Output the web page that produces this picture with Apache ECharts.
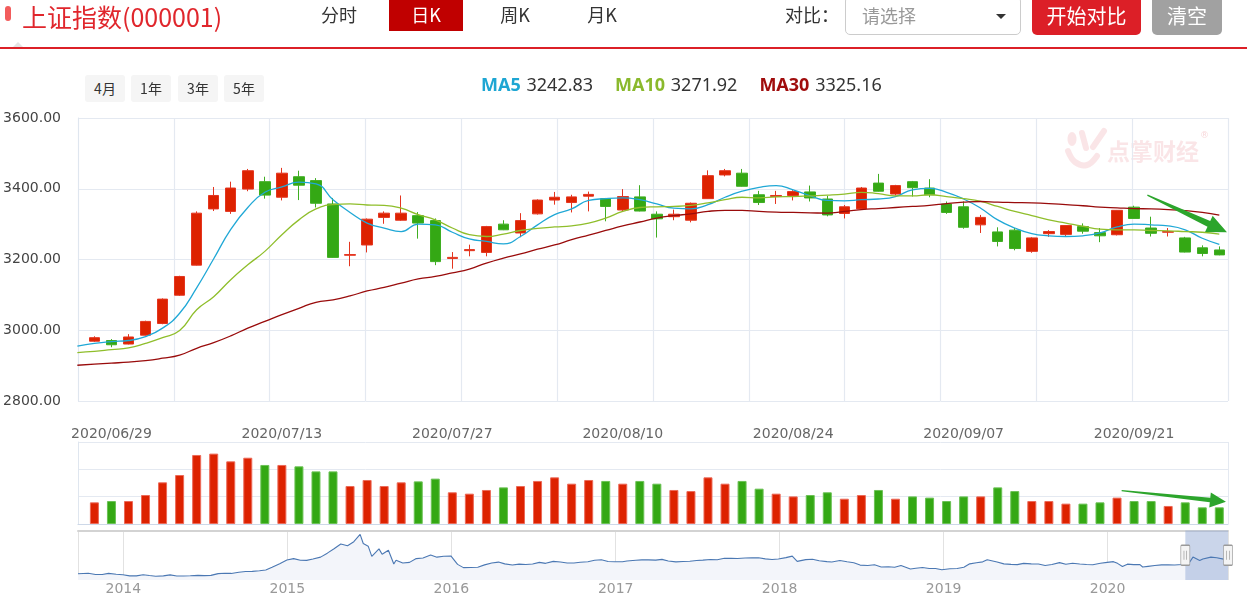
<!DOCTYPE html>
<html>
<head>
<meta charset="utf-8">
<script src="https://cdn.jsdelivr.net/npm/echarts@6/dist/echarts.min.js"></script>
<style>
html,body{margin:0;padding:0;background:#fff;}
#wrap{position:relative;width:1247px;height:600px;overflow:hidden;font-family:"Noto Sans CJK SC","Noto Sans",sans-serif;}
#chart{position:absolute;left:0;top:0;width:1247px;height:600px;}
.hd{position:absolute;white-space:nowrap;box-sizing:border-box;}
.tab{top:-3px;height:34px;line-height:34px;font-size:18px;color:#333;text-align:center;}
.pb{top:75px;height:27px;width:40px;line-height:27px;font-size:14px;color:#333;background:#f5f5f5;border-radius:3px;text-align:center;}
</style>
</head>
<body>
<div id="wrap">
  <div id="chart"></div>
  <div class="hd" style="left:5px;top:6px;width:6px;height:15px;border-radius:3px;background:#f25c5c;"></div>
  <div class="hd" style="left:22px;top:0;line-height:32px;font-size:25px;color:#e0262c;">上证指数(000001)</div>
  <div class="hd tab" style="left:309px;width:60px;">分时</div>
  <div class="hd tab" style="left:389px;width:74px;background:#c00000;color:#fff;">日K</div>
  <div class="hd tab" style="left:485px;width:60px;">周K</div>
  <div class="hd tab" style="left:572px;width:60px;">月K</div>
  <div class="hd tab" style="left:785px;text-align:left;">对比：</div>
  <div class="hd" style="left:845px;top:-4px;width:176px;height:39px;border:1px solid #ccc;border-radius:5px;background:#fff;">
    <div class="hd" style="left:16px;top:0;line-height:37px;font-size:18px;color:#999;">请选择</div>
    <div class="hd" style="left:150px;top:17px;width:0;height:0;border-left:5px solid transparent;border-right:5px solid transparent;border-top:5px solid #333;"></div>
  </div>
  <div class="hd" style="left:1032px;top:-4px;width:109px;height:39px;line-height:39px;border-radius:5px;background:#dc1f27;color:#fff;font-size:20px;text-align:center;">开始对比</div>
  <div class="hd" style="left:1152px;top:-4px;width:70px;height:39px;line-height:39px;border-radius:5px;background:#a1a1a1;color:#fff;font-size:20px;text-align:center;">清空</div>
  <div class="hd" style="left:13px;top:42px;width:0;height:0;border-left:5px solid transparent;border-right:5px solid transparent;border-bottom:5px solid #e4e4e4;"></div>
  <div class="hd" style="left:0;top:47px;width:1247px;height:2px;background:#dc2027;"></div>
  <div class="hd pb" style="left:85px;">4月</div>
  <div class="hd pb" style="left:131px;">1年</div>
  <div class="hd pb" style="left:178px;">3年</div>
  <div class="hd pb" style="left:224px;">5年</div>
</div>
<script>
// ---------------- data ----------------
const dates = ['2020/06/23','2020/06/24','2020/06/29','2020/06/30','2020/07/01','2020/07/02','2020/07/03','2020/07/06','2020/07/07','2020/07/08',
  '2020/07/09','2020/07/10','2020/07/13','2020/07/14','2020/07/15','2020/07/16','2020/07/17','2020/07/20','2020/07/21','2020/07/22',
  '2020/07/23','2020/07/24','2020/07/27','2020/07/28','2020/07/29','2020/07/30','2020/07/31','2020/08/03','2020/08/04','2020/08/05',
  '2020/08/06','2020/08/07','2020/08/10','2020/08/11','2020/08/12','2020/08/13','2020/08/14','2020/08/17','2020/08/18','2020/08/19',
  '2020/08/20','2020/08/21','2020/08/24','2020/08/25','2020/08/26','2020/08/27','2020/08/28','2020/08/31','2020/09/01','2020/09/02',
  '2020/09/03','2020/09/04','2020/09/07','2020/09/08','2020/09/09','2020/09/10','2020/09/11','2020/09/14','2020/09/15','2020/09/16',
  '2020/09/17','2020/09/18','2020/09/21','2020/09/22','2020/09/23','2020/09/24','2020/09/25','2020/09/28'];
const tickLabels = ['2020/06/29','2020/07/13','2020/07/27','2020/08/10','2020/08/24','2020/09/07','2020/09/21'];

const openP  = [null,2969,2971,2961,2986,3019,3099,3184,3343,3336,3399,3420,3376,3434,3423,3357,3212,3241,3319,3311,3324,3310,3203,3225,3220,3300,3275,3329,3368,3361,3379,3372,3340,3377,3328,3321,3311,3372,3439,3444,3383,3378,3381,3391,3371,3330,3343,3416,3385,3420,3402,3357,3349,3298,3278,3283,3223,3273,3271,3293,3276,3270,3348,3289,3277,3261,3233,3227];
const closeP = [null,2979,2959,2981,3025,3088,3152,3331,3381,3402,3451,3382,3444,3410,3359,3206,3214,3314,3331,3331,3303,3194,3206,3228,3293,3284,3310,3368,3376,3377,3384,3350,3378,3337,3315,3328,3359,3437,3451,3407,3361,3381,3392,3374,3326,3349,3402,3393,3409,3403,3383,3333,3291,3319,3251,3231,3261,3279,3296,3280,3267,3339,3316,3274,3279,3221,3217,3213];
const lowP   = [null,2967,2952,2960,2985,3017,3097,3183,3337,3329,3393,3372,3367,3368,3347,3205,3181,3220,3301,3309,3259,3184,3174,3209,3209,3283,3263,3327,3355,3333,3336,3308,3335,3336,3262,3311,3305,3371,3435,3406,3354,3357,3367,3364,3322,3316,3342,3392,3381,3378,3376,3329,3287,3275,3237,3226,3219,3264,3265,3273,3249,3268,3315,3265,3265,3220,3209,3212];
const highP  = [null,2983,2975,2989,3027,3090,3154,3336,3405,3420,3456,3434,3459,3451,3430,3374,3250,3316,3336,3381,3334,3316,3221,3242,3295,3311,3331,3370,3391,3383,3392,3374,3399,3410,3336,3341,3361,3452,3456,3456,3394,3394,3396,3409,3380,3354,3405,3442,3411,3422,3427,3364,3364,3326,3291,3289,3263,3283,3297,3302,3289,3340,3352,3321,3289,3264,3240,3237];
const volume = [null,158.5,168,168,212,305,358.5,505,515,458.5,485,432,432,422,385,385,278,322,278,305,312,332,232,222,249,268,278,315,341.5,295,322,315,295,315,295,249,241,341.5,295,315,258.5,222,202,212,232,185,212,249,185,202,193,168,202,202,268,241,168,168,149,149,158.5,193,168,168,132,158.5,122,122];
const ma5  = [2955,2963,2968,2971,2982,3006,3048,3120,3202,3285,3347,3390,3405,3419,3414,3369,3333,3303,3289,3279,3300,3298,3277,3258,3251,3244,3265,3298,3327,3343,3367,3372,3374,3369,3357,3345,3343,3355,3376,3393,3404,3409,3397,3380,3367,3366,3369,3371,3378,3397,3401,3390,3371,3345,3312,3289,3273,3267,3265,3267,3275,3292,3300,3298,3295,3284,3260,3242.83];
const ma10 = [2937,2940,2945,2950,2963,2979,2999,3058,3095,3143,3185,3223,3270,3312,3343,3355,3357,3354,3353,3345,3327,3312,3289,3270,3265,3272,3282,3288,3292,3295,3303,3317,3336,3347,3349,3350,3353,3360,3369,3376,3374,3377,3378,3380,3382,3385,3390,3386,3380,3380,3383,3378,3372,3364,3350,3336,3324,3312,3303,3294,3286,3284,3284,3282,3281,3279,3277,3271.92];
const ma30 = [2901,2904,2907,2910,2914,2921,2930,2949,2965,2984,3006,3025,3044,3062,3079,3086,3097,3111,3121,3133,3145,3152,3162,3173,3190,3204,3216,3229,3241,3256,3269,3282,3295,3306,3317,3324,3329,3336,3339,3339,3336,3334,3333,3332,3331,3336,3341,3344,3347,3350,3353,3358,3362,3364,3362,3361,3360,3358,3355,3352,3348,3346,3344,3343,3341,3338,3333,3325.16];

// annotation arrows in data space: [xIndex0, value0, xIndex1, value1]
const arrowPrice  = [62.78, 3382, 67.45, 3277];
const arrowVolume = [61.27, 244, 67.39, 163];

// history of the index for the overview strip
const histDates = ['2013-09-22','2013-10-15','2013-10-31','2013-11-15','2013-11-29','2013-12-16','2013-12-31','2014-01-15','2014-01-30','2014-02-14','2014-02-28',
 '2014-03-14','2014-03-31','2014-04-15','2014-04-30','2014-05-15','2014-05-30','2014-06-16','2014-06-30','2014-07-15','2014-07-31','2014-08-15','2014-08-29',
 '2014-09-15','2014-09-30','2014-10-15','2014-10-31','2014-11-14','2014-11-28','2014-12-15','2014-12-31','2015-01-15','2015-01-30','2015-02-13','2015-02-27',
 '2015-03-16','2015-03-31','2015-04-15','2015-04-30','2015-05-15','2015-05-29','2015-06-12','2015-06-19','2015-06-30','2015-07-08','2015-07-24','2015-07-31',
 '2015-08-14','2015-08-26','2015-08-31','2015-09-15','2015-09-30','2015-10-15','2015-10-30','2015-11-16','2015-11-30','2015-12-15','2015-12-31',
 '2016-01-15','2016-01-28','2016-02-29','2016-03-15','2016-03-31','2016-04-15','2016-04-29','2016-05-16','2016-05-31','2016-06-15','2016-06-30',
 '2016-07-15','2016-07-29','2016-08-15','2016-08-31','2016-09-15','2016-09-30','2016-10-14','2016-10-31','2016-11-15','2016-11-30','2016-12-15','2016-12-30',
 '2017-01-16','2017-01-26','2017-02-15','2017-02-28','2017-03-15','2017-03-31','2017-04-14','2017-04-28','2017-05-15','2017-05-31','2017-06-15','2017-06-30',
 '2017-07-14','2017-07-31','2017-08-15','2017-08-31','2017-09-15','2017-09-29','2017-10-16','2017-10-31','2017-11-15','2017-11-30','2017-12-15','2017-12-29',
 '2018-01-15','2018-01-29','2018-02-09','2018-02-28','2018-03-15','2018-03-30','2018-04-16','2018-04-27','2018-05-15','2018-05-31','2018-06-15','2018-06-29',
 '2018-07-16','2018-07-31','2018-08-15','2018-08-31','2018-09-14','2018-09-28','2018-10-19','2018-10-31','2018-11-15','2018-11-30','2018-12-14','2018-12-28',
 '2019-01-15','2019-01-31','2019-02-15','2019-02-28','2019-03-15','2019-03-29','2019-04-08','2019-04-30','2019-05-15','2019-05-31','2019-06-14','2019-06-28',
 '2019-07-15','2019-07-31','2019-08-15','2019-08-30','2019-09-16','2019-09-30','2019-10-15','2019-10-31','2019-11-15','2019-11-29','2019-12-16','2019-12-31',
 '2020-01-14','2020-01-23','2020-02-03','2020-02-14','2020-02-28','2020-03-13','2020-03-19','2020-03-31','2020-04-15','2020-04-30','2020-05-15','2020-05-29',
 '2020-06-15','2020-06-30','2020-07-09','2020-07-24','2020-07-31','2020-08-18','2020-08-31','2020-09-15','2020-09-25'];
const histValues = [2190,2230,2141,2135,2220,2160,2116,2030,2033,2115,2056,
 2004,2033,2105,2026,2025,2039,2070,2048,2067,2201,2226,2217,
 2311,2364,2374,2420,2478,2683,2953,3235,3336,3210,3203,3310,
 3449,3748,4084,4441,4308,4612,5166,4478,4277,3507,4070,3664,
 3965,2927,3206,3005,3053,3338,3383,3606,3445,3510,3539,
 2901,2656,2688,2864,3004,3073,2938,2850,2917,2887,2930,
 3054,2979,3125,3085,3003,3005,3064,3100,3207,3250,3118,3104,
 3103,3159,3212,3242,3241,3223,3276,3155,3090,3117,3132,3192,
 3222,3273,3251,3361,3354,3349,3379,3393,3403,3317,3266,3307,
 3410,3524,3129,3259,3291,3169,3111,3082,3192,3095,3022,2847,
 2815,2876,2705,2725,2681,2821,2550,2603,2668,2588,2594,2494,
 2571,2585,2682,2941,3021,3091,3245,3078,2939,2899,2882,2979,
 2942,2933,2815,2886,3031,2905,2991,2929,2891,2871,2984,3050,
 3106,2977,2746,2917,2880,2887,2702,2750,2811,2860,2868,2852,
 2890,2985,3451,3197,3310,3451,3396,3296,3219];
const historyRange = ['2013-09-22','2020-09-25'];
const zoomWindow = ['2020-06-22','2020-09-25'];

// ---------------- build ----------------
const RED = '#dd2200', GREEN = '#34a814';
const C_MA5 = '#20a8d6', C_MA10 = '#8fbe2b', C_MA30 = '#990b0b';
const candleData = [];
const volData = [];
for (let i = 1; i < dates.length; i++) {
  candleData.push([i, openP[i], closeP[i], lowP[i], highP[i]]);
  const up = closeP[i] >= openP[i];
  volData.push({ value: [i, volume[i]], itemStyle: { color: up ? RED : GREEN, borderColor: up ? '#ec6a58' : '#6cc256' } });
}
const toLine = arr => arr.map((v, i) => [i, v]);
const histData = histDates.map((d, i) => [d, histValues[i]]);
const labelIdx = tickLabels.map(t => dates.indexOf(t));
const fmt = v => v.toFixed(2);

function arrowRenderer(headLen, headHalf, neckHalf, tailHalf) {
  return function (params, api) {
    const p0 = api.coord([api.value(0), api.value(1)]);
    const p1 = api.coord([api.value(2), api.value(3)]);
    const dx = p1[0] - p0[0], dy = p1[1] - p0[1];
    const len = Math.sqrt(dx * dx + dy * dy);
    const ux = dx / len, uy = dy / len, nx = -uy, ny = ux;
    const bx = p1[0] - ux * headLen, by = p1[1] - uy * headLen;
    return {
      type: 'polygon',
      shape: { points: [
        [p0[0] + nx * tailHalf, p0[1] + ny * tailHalf],
        [bx + nx * neckHalf, by + ny * neckHalf],
        [bx + nx * headHalf, by + ny * headHalf],
        [p1[0], p1[1]],
        [bx - nx * headHalf, by - ny * headHalf],
        [bx - nx * neckHalf, by - ny * neckHalf],
        [p0[0] - nx * tailHalf, p0[1] - ny * tailHalf]
      ] },
      style: { fill: '#2ca52c' }
    };
  };
}

const GRIDLINE = '#e4e9f1';
const xMin = 0.038, xMax = 67.51;
const chart = echarts.init(document.getElementById('chart'), null, { renderer: 'canvas' });
chart.setOption({
  animation: false,
  textStyle: { fontFamily: 'DejaVu Sans' },
  title: {
    left: 476, top: 72,
    text: '{k5|MA5} {v|' + fmt(ma5[ma5.length - 1]) + '}{k10|MA10} {v|' + fmt(ma10[ma10.length - 1]) + '}{k30|MA30} {v|' + fmt(ma30[ma30.length - 1]) + '}',
    textStyle: { fontWeight: 'normal', rich: {
      k5: { color: '#1ea6d3', fontWeight: 'bold', fontSize: 18, fontFamily: 'Noto Sans' },
      k10: { color: '#8ab92c', fontWeight: 'bold', fontSize: 18, fontFamily: 'Noto Sans' },
      k30: { color: '#a00d0d', fontWeight: 'bold', fontSize: 18, fontFamily: 'Noto Sans' },
      v: { color: '#333', fontSize: 18, fontWeight: 'normal', fontFamily: 'Noto Sans', padding: [0, 22, 0, 0] }
    } }
  },
  grid: [
    { left: 78, right: 19, top: 118, height: 283 },
    { left: 78, right: 19, top: 442, height: 82 },
    { left: 78, right: 19, top: 530.5, height: 49.5 }
  ],
  xAxis: [
    { type: 'value', gridIndex: 0, min: xMin, max: xMax, position: 'bottom',
      axisLine: { show: false }, axisTick: { show: false }, splitLine: { show: false },
      axisLabel: { customValues: labelIdx, formatter: v => dates[Math.round(v)], color: '#666', fontSize: 14, margin: 26 } },
    { type: 'value', gridIndex: 0, min: 0, max: 12, interval: 1, position: 'top',
      axisLine: { show: false }, axisTick: { show: false }, axisLabel: { show: false },
      splitLine: { show: true, lineStyle: { color: GRIDLINE, width: 1.2 } } },
    { type: 'value', gridIndex: 1, min: xMin, max: xMax, position: 'bottom',
      axisLine: { show: true, onZero: false, lineStyle: { color: '#cdd8e8', width: 1.2 } }, axisTick: { show: false },
      axisLabel: { show: false }, splitLine: { show: false } },
    { type: 'value', gridIndex: 1, min: 0, max: 1, interval: 1, position: 'top',
      axisLine: { show: false }, axisTick: { show: false }, axisLabel: { show: false },
      splitLine: { show: true, lineStyle: { color: GRIDLINE } } },
    { type: 'time', gridIndex: 2, min: historyRange[0], max: historyRange[1], splitNumber: 7, position: 'bottom',
      axisLine: { show: false }, axisTick: { show: false },
      axisLabel: { formatter: '{yyyy}', color: '#999', fontSize: 14, margin: 2 },
      splitLine: { show: true, lineStyle: { color: '#e2e2e2' } } },
    { type: 'value', gridIndex: 2, min: 0, max: 1, position: 'top',
      axisLine: { show: true, onZero: false, lineStyle: { color: '#d3d3d3', width: 2 } }, axisTick: { show: false },
      axisLabel: { show: false }, splitLine: { show: false } }
  ],
  yAxis: [
    { type: 'value', gridIndex: 0, min: 2800, max: 3600, interval: 200,
      axisLine: { show: true, lineStyle: { color: '#dfe6ef' } }, axisTick: { show: false },
      axisLabel: { formatter: v => v.toFixed(2), color: '#444', fontSize: 14, margin: 17 },
      splitLine: { show: true, lineStyle: { color: GRIDLINE } } },
    { type: 'value', gridIndex: 1, min: 0, max: 600, interval: 200,
      axisLine: { show: true, lineStyle: { color: '#dfe6ef' } }, axisTick: { show: false },
      axisLabel: { show: false }, splitLine: { show: true, lineStyle: { color: GRIDLINE } } },
    { type: 'value', gridIndex: 2, min: 1720, max: 5460, show: false, splitLine: { show: false } }
  ],
  graphic: [
    { type: 'group', silent: true, children: [
      { type: 'ellipse', shape: { cx: 1072, cy: 139, rx: 4.5, ry: 7 }, style: { fill: 'rgba(226,92,104,0.16)' } },
      { type: 'line', shape: { x1: 1082, y1: 133, x2: 1086, y2: 148 }, style: { stroke: 'rgba(226,92,104,0.16)', lineWidth: 6, lineCap: 'round' } },
      { type: 'line', shape: { x1: 1104, y1: 131, x2: 1093, y2: 147 }, style: { stroke: 'rgba(226,92,104,0.16)', lineWidth: 6, lineCap: 'round' } },
      { type: 'polyline', shape: { points: [[1068, 151], [1075, 162], [1087, 165], [1097, 156]], smooth: 0.4 }, style: { stroke: 'rgba(226,92,104,0.16)', lineWidth: 6, lineCap: 'round', fill: null } },
      { type: 'text', x: 1107, y: 140, style: { text: '点掌财经', font: 'bold 23px "Noto Sans CJK SC"', fill: 'rgba(226,92,104,0.16)' } },
      { type: 'text', x: 1200, y: 131, style: { text: '®', font: '9px "DejaVu Sans"', fill: 'rgba(226,92,104,0.25)' } }
    ] }
  ],
  series: [
    { type: 'candlestick', name: '日K', xAxisIndex: 0, yAxisIndex: 0, data: candleData, barWidth: 11,
      itemStyle: { color: RED, color0: GREEN, borderColor: '#e4351f', borderColor0: '#3fae22', borderWidth: 1 } },
    { type: 'line', name: 'MA5', xAxisIndex: 0, yAxisIndex: 0, data: toLine(ma5), smooth: true, showSymbol: false,
      lineStyle: { color: C_MA5, width: 1.3 }, z: 3 },
    { type: 'line', name: 'MA10', xAxisIndex: 0, yAxisIndex: 0, data: toLine(ma10), smooth: true, showSymbol: false,
      lineStyle: { color: C_MA10, width: 1.3 }, z: 3 },
    { type: 'line', name: 'MA30', xAxisIndex: 0, yAxisIndex: 0, data: toLine(ma30), smooth: true, showSymbol: false,
      lineStyle: { color: C_MA30, width: 1.3 }, z: 3 },
    { type: 'custom', xAxisIndex: 0, yAxisIndex: 0, clip: false, z: 5, data: [arrowPrice],
      encode: { x: [0, 2], y: [1, 3] }, renderItem: arrowRenderer(20, 9, 3.2, 0.6) },
    { type: 'bar', name: '成交量', xAxisIndex: 2, yAxisIndex: 1, data: volData, barWidth: 9,
      itemStyle: { borderWidth: 1 } },
    { type: 'custom', xAxisIndex: 2, yAxisIndex: 1, clip: false, z: 5, data: [arrowVolume],
      encode: { x: [0, 2], y: [1, 3] }, renderItem: arrowRenderer(16, 7.5, 2.2, 0.6) },
    // overview: area fill underneath
    { type: 'line', name: '上证指数区域', xAxisIndex: 4, yAxisIndex: 2, data: histData, showSymbol: false, z: 0,
      lineStyle: { width: 0, opacity: 0 }, areaStyle: { color: '#f3f5fa', opacity: 1 }, silent: true },
    // overview: selection window + handles on top of the fill
    { type: 'line', name: '上证指数', xAxisIndex: 4, yAxisIndex: 2, data: histData, showSymbol: false, z: 3,
      lineStyle: { color: '#4b78b3', width: 1.1 },
      markArea: { silent: true, z: 2, itemStyle: { color: 'rgba(150,172,214,0.5)' },
        data: [[{ xAxis: zoomWindow[0] }, { xAxis: zoomWindow[1] }]] },
      markPoint: { silent: true, z: 6, symbol: 'path://M1,0 H9 Q10,0 10,1 V21 Q10,22 9,22 H1 Q0,22 0,21 V1 Q0,0 1,0 Z M3.5,6 V16 M6.5,6 V16',
        symbolSize: [9, 20], symbolKeepAspect: false,
        itemStyle: { color: '#f4f4f4', borderColor: '#9a9a9a', borderWidth: 1 }, label: { show: false },
        data: [ { coord: [zoomWindow[0], 3590] }, { coord: [zoomWindow[1], 3590] } ] } }
  ]
});
</script>
</body>
</html>
